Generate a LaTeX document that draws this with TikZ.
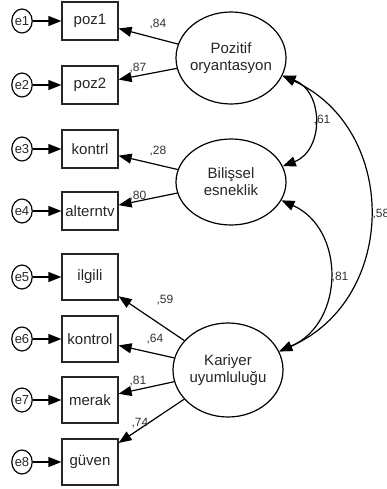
\documentclass[tikz,border=0pt]{standalone}
\usepackage{fontspec}
\setmainfont{Liberation Sans}
\usetikzlibrary{shapes.geometric,arrows.meta}
\begin{document}
\begin{tikzpicture}[x=1pt,y=1pt,
  line width=1.2pt,
  obs/.style={draw=black!85, rectangle, minimum width=56pt, inner sep=0pt, fill=white, text=black!85, font=\fontsize{15}{17}\selectfont},
  obsA/.style={obs, minimum height=38pt},
  obsB/.style={obs, minimum height=46pt},
  err/.style={draw, ellipse, minimum width=20pt, minimum height=24pt, inner sep=0pt, text=black!85, font=\fontsize{13}{15}\selectfont},
  lat/.style={draw, ellipse, inner sep=0pt, minimum width=110pt},
  lattext/.style={align=center, text=black!85, font=\fontsize{15}{17}\selectfont},
  lbl/.style={inner sep=0pt, text=black!80, font=\fontsize{12}{14}\selectfont},
  ld/.style={-{Triangle[length=13pt,width=10pt]}},
  cv/.style={{Triangle[length=13pt,width=10pt]}-{Triangle[length=13pt,width=10pt]}}
]
\useasboundingbox (0,0) rectangle (387,-489);

% observed variables
\node[obsA] (poz1) at (90,-21) {poz1};
\node[obsA] (poz2) at (90,-85) {poz2};
\node[obsA] (kontrl) at (90,-149) {kontrl};
\node[obsA] (altern) at (90,-211) {alterntv};
\node[obsB] (ilgili) at (90,-277) {ilgili};
\node[obsB] (kontrol) at (90,-339) {kontrol};
\node[obsB] (merak) at (90,-400) {merak};
\node[obsB] (guven) at (90,-462) {güven};

% error terms
\node[err] (e1) at (22,-21) {e1};
\node[err] (e2) at (22,-85) {e2};
\node[err] (e3) at (22,-149) {e3};
\node[err] (e4) at (22,-211) {e4};
\node[err] (e5) at (22,-277) {e5};
\node[err] (e6) at (22,-339) {e6};
\node[err] (e7) at (22,-400) {e7};
\node[err] (e8) at (22,-462) {e8};

\draw[ld] (e1) -- (poz1);
\draw[ld] (e2) -- (poz2);
\draw[ld] (e3) -- (kontrl);
\draw[ld] (e4) -- (altern);
\draw[ld] (e5) -- (ilgili);
\draw[ld] (e6) -- (kontrol);
\draw[ld] (e7) -- (merak);
\draw[ld] (e8) -- (guven);

% latent variables
\node[lat, minimum height=92pt] (PO) at (231,-58) {};
\node[lattext] (POt) at (PO) {Pozitif\\oryantasyon};
\node[lat, minimum height=86pt] (BE) at (231,-182) {};
\node[lattext] (BEt) at (BE) {Bilişsel\\esneklik};
\node[lat, minimum height=94pt] (KU) at (228,-370) {};
\node[lattext] (KUt) at (KU) {Kariyer\\uyumluluğu};

% loadings
\draw[ld] (PO) -- (poz1);
\draw[ld] (PO) -- (poz2);
\draw[ld] (BE) -- (kontrl);
\draw[ld] (BE) -- (altern);
\draw[ld] (KU) -- (ilgili);
\draw[ld] (KU) -- (kontrol);
\draw[ld] (KU) -- (merak);
\draw[ld] (KU) -- (guven);

\node[lbl] (l1) at (158,-24) {,84};
\node[lbl] (l2) at (138,-68) {,87};
\node[lbl] (l3) at (158,-151) {,28};
\node[lbl] (l4) at (138,-196) {,80};
\node[lbl] (l5) at (165,-300) {,59};
\node[lbl] (l6) at (155,-339) {,64};
\node[lbl] (l7) at (138,-381) {,81};
\node[lbl] (l8) at (140,-423) {,74};

% covariances
\draw[cv] (PO.-19) .. controls +(41.7,-15.8) and +(41.3,15.8) .. (BE.17);
\draw[cv] (PO.-19) .. controls +(117,-53.6) and +(119,52) .. (KU.20);
\draw[cv] (BE.-20) .. controls +(64,-28.5) and +(66,28.5) .. (KU.20);

\node[lbl] (c1) at (322,-120) {,61};
\node[lbl] (c2) at (340,-277) {,81};
\node[lbl, anchor=west] (c3) at (372,-214) {,58};
\end{tikzpicture}
\end{document}
